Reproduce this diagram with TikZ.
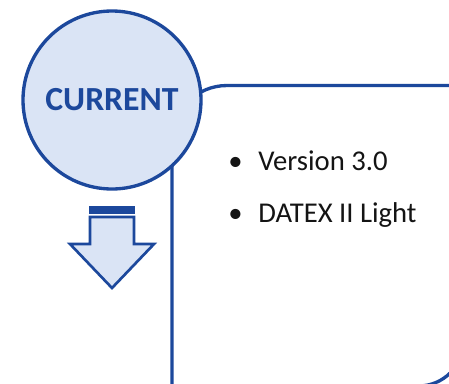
\documentclass[tikz,border=0pt]{standalone}
\usepackage{fontspec}
\setmainfont{Carlito}
\definecolor{dblue}{RGB}{28,72,156}
\definecolor{lblue}{RGB}{218,228,245}
\definecolor{txt}{RGB}{20,20,20}
\begin{document}
\begin{tikzpicture}[x=0.75pt,y=-0.75pt,
  bline/.style={draw=dblue,line width=2.5pt},
  bullettxt/.style={anchor=base west,inner sep=0,text=txt,font=\fontsize{21.5}{24}\selectfont}]
\useasboundingbox (0,0) rectangle (449,383);
\clip (0,0) rectangle (449,383);
\fill[white] (0,0) rectangle (449,383);
% content box: round diagonal corner rectangle
\draw[bline,line join=miter] (172,395) -- (172,140.5) arc[start angle=180,end angle=270,radius=55]
  -- (463.5,85.5) -- (463.5,341) arc[start angle=0,end angle=90,radius=45] -- (165,386);
% circle
\node[circle,bline,fill=lblue,inner sep=0,minimum size=133.5pt,
  font=\bfseries\fontsize{25.3}{28}\selectfont,text=dblue] (cur) at (112,100) {CURRENT};
% arrow
\draw[draw=dblue,line width=1.5pt,fill=dblue] (90,206.5) rectangle (134,212.5) coordinate (bar);
\draw[draw=dblue,line width=2pt,fill=lblue,line join=miter]
  (90,217) -- (134,217) -- (134,244) -- (154,244) -- (112,288) coordinate (tip) -- (70,244) -- (90,244) -- cycle;
% bullets
\node[bullettxt] (b1) at (228,170) {•};
\node[bullettxt] (t1) at (258,170) {Version 3.0};
\node[bullettxt] (b2) at (228,222) {•};
\node[bullettxt] (t2) at (258,222) {DATEX II Light};
\end{tikzpicture}
\end{document}
